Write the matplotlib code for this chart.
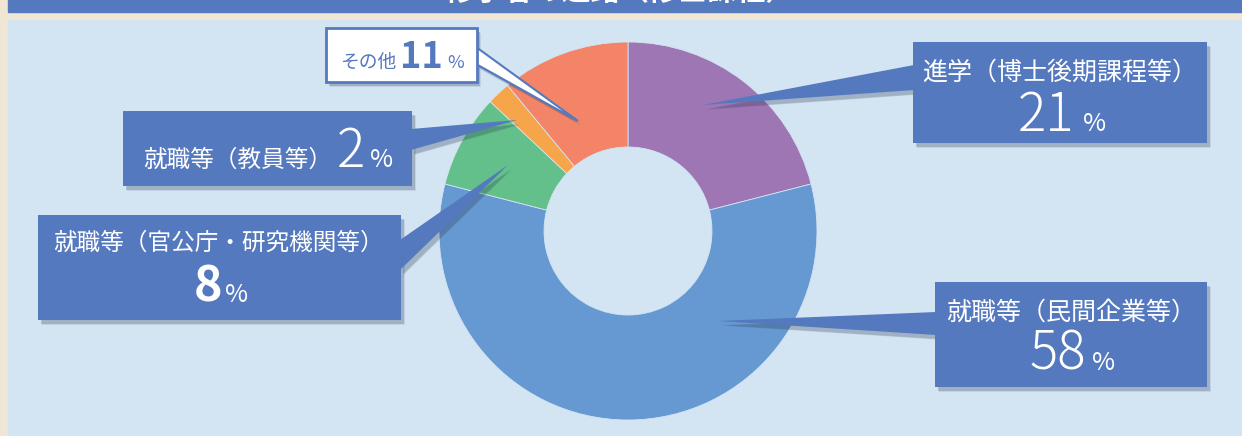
import matplotlib
matplotlib.use("Agg")
import matplotlib.pyplot as plt
from matplotlib.patches import Rectangle, Polygon

# data
categories = ['進学（博士後期課程等）', '就職等（民間企業等）', '就職等（官公庁・研究機関等）',
              '就職等（教員等）', 'その他']
shares = [21, 58, 8, 2, 11]
slice_colors = ['#9E76B3', '#6699D1', '#63C08A', '#F6A54B', '#F38468']
title = '修了者の進路（修士課程）'

W, H = 1242, 436
BLUE = '#5579BE'
PANEL = '#D3E4F3'
JP = ['Noto Sans CJK JP', 'DejaVu Sans']


def Y(y):
    # pixel row (from top) -> data y
    return H - y


fig = plt.figure(figsize=(W / 100, H / 100), dpi=100)
fig.patch.set_facecolor('#EFE7D3')
ax = fig.add_axes([0, 0, 1, 1])
ax.set_xlim(0, W)
ax.set_ylim(0, H)
ax.axis('off')

# background pieces
ax.add_patch(Rectangle((8, Y(436)), W - 8, 416, color=PANEL, zorder=0))
ax.add_patch(Rectangle((8, Y(12)), W - 8, 12, color=BLUE, zorder=0))
# title is cut by the top edge in the original
ax.text(620, Y(-9), title, ha='center', va='center', fontsize=21, color='white',
        fontweight='bold', family=JP, zorder=1)

# donut
ax.pie(shares, colors=slice_colors, startangle=90, counterclock=False,
       center=(628, Y(231)), radius=189, frame=True,
       wedgeprops=dict(width=105, linewidth=0.6, edgecolor=PANEL))
ax.set_xlim(0, W)
ax.set_ylim(0, H)
ax.axis('off')


def shadow_poly(pts, dx=3, dy=4, z=3):
    for i, a in enumerate([0.10, 0.10, 0.12]):
        off = 1.5 - i * 0.7
        sp = [(x + dx + off * 0.5, Y(y + dy + off * 0.5)) for x, y in pts]
        ax.add_patch(Polygon(sp, closed=True, color='#2b3a55', alpha=a, lw=0, zorder=z))


def callout(box, base, tip, face=BLUE, edge=None):
    x0, y0, x1, y1 = box
    rect_pts = [(x0, y0), (x1, y0), (x1, y1), (x0, y1)]
    wedge_pts = [base[0], base[1], tip]
    shadow_poly(rect_pts)
    shadow_poly(wedge_pts)
    ax.add_patch(Polygon([(x, Y(y)) for x, y in wedge_pts], closed=True, fc=face,
                         ec=edge if edge else face, lw=1.5 if edge else 0, zorder=4))
    ax.add_patch(Polygon([(x, Y(y)) for x, y in rect_pts], closed=True, fc=face,
                         ec=edge if edge else face, lw=2 if edge else 0, zorder=5))


renderer = fig.canvas.get_renderer()


def pieces(cx, base_y, parts, gap=3):
    # parts: (text, size, weight, color)
    objs = []
    for s, size, weight, color in parts:
        t = ax.text(0, Y(base_y), s, fontsize=size, fontweight=weight, color=color,
                    family=JP, ha='left', va='baseline', zorder=7)
        objs.append(t)
    widths = [t.get_window_extent(renderer).width for t in objs]
    total = sum(widths) + gap * (len(objs) - 1)
    x = cx - total / 2
    for t, w in zip(objs, widths):
        t.set_x(x)
        x += w + gap


LBL = 18
NUM = 38

# 21% box
callout((913, 42, 1207, 143), [(914, 65), (914, 90)], (703, 105))
pieces(1060, 80, [(categories[0], LBL, 'normal', 'white')])
pieces(1062, 131, [(str(shares[0]), NUM, 'light', 'white'), ('%', 18, 'normal', 'white')], gap=8)

# 58% box
callout((935, 282, 1207, 387), [(936, 312), (936, 335)], (718, 321))
pieces(1071, 320, [(categories[1], LBL, 'normal', 'white')])
pieces(1072, 370, [(str(shares[1]), NUM, 'light', 'white'), ('%', 18, 'normal', 'white')], gap=6)

# 8% box
callout((38, 215, 401, 320), [(400, 240), (400, 270)], (508, 165))
pieces(219, 250, [(categories[2], 17, 'normal', 'white')])
pieces(221, 302, [(str(shares[2]), 35, 'bold', 'white'), ('%', 18, 'normal', 'white')], gap=2)

# 2% box
callout((123, 111, 412, 186), [(411, 129), (411, 150)], (517, 120))
pieces(268, 167, [(categories[3], 17, 'normal', 'white'),
                  (str(shares[3]), NUM, 'light', 'white'),
                  ('%', 18, 'normal', 'white')], gap=5)

# 11% box (white)
callout((326, 28, 477, 82), [(476, 47), (476, 64)], (578, 121), face='white', edge=BLUE)
pieces(402, 68, [(categories[4], 13.5, 'normal', BLUE),
                 (str(shares[4]), 26, 'bold', BLUE),
                 ('%', 13, 'normal', BLUE)], gap=4)

fig.savefig('out.png', dpi=100, facecolor=fig.get_facecolor())
